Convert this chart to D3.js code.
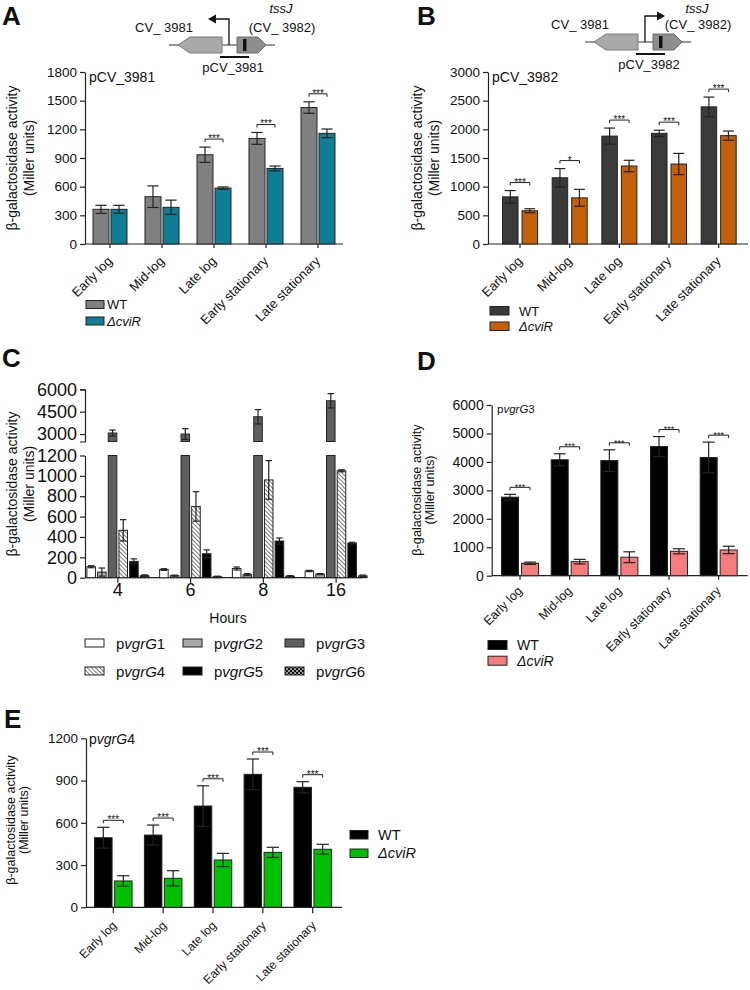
<!DOCTYPE html>
<html>
<head>
<meta charset="utf-8">
<script src="https://cdn.jsdelivr.net/npm/d3@7"></script>
<style>
  body { margin: 0; background: #fff; }
  svg text { font-family: "Liberation Sans", Arial, sans-serif; fill: #111; }
</style>
</head>
<body>
<svg id="fig" width="750" height="990"></svg>
<script>
// ---------- data ----------
const stages = ["Early log", "Mid-log", "Late log", "Early stationary", "Late stationary"];

// A: pCV_3981
const aWT = [363, 495, 934, 1105, 1428];
const aWTErr = [42, 113, 80, 62, 60];
const aCviR = [363, 384, 585, 791, 1158];
const aCviRErr = [42, 75, 12, 25, 45];
const aSig = ["", "", "***", "***", "***"];

// B: pCV_3982
const bWT = [822, 1155, 1882, 1930, 2392];
const bWTErr = [110, 160, 140, 55, 170];
const bCviR = [580, 805, 1360, 1395, 1890];
const bCviRErr = [35, 148, 100, 185, 80];
const bSig = ["***", "*", "***", "***", "***"];

// C: vgrG promoters over time
const hours = ["4", "6", "8", "16"];
const cG1 = [108, 80, 90, 66];
const cG1Err = [10, 8, 15, 6];
const cG2 = [55, 20, 30, 35];
const cG2Err = [40, 5, 10, 5];
const cG3 = [3070, 3000, 4160, 5230];
const cG3Err = [200, 360, 480, 480];
const cG4 = [465, 700, 960, 1050];
const cG4Err = [105, 145, 190, 10];
const cG5 = [160, 235, 360, 340];
const cG5Err = [25, 38, 30, 8];
const cG6 = [20, 10, 15, 18];
const cG6Err = [8, 5, 6, 8];

// D: pvgrG3
const dWT = [2760, 4075, 4045, 4540, 4155];
const dWTErr = [100, 210, 380, 350, 540];
const dCviR = [437, 494, 650, 857, 905];
const dCviRErr = [40, 80, 190, 90, 130];
const dSig = ["***", "***", "***", "***", "***"];

// E: pvgrG4
const eWT = [494, 513, 719, 944, 852];
const eWTErr = [74, 71, 144, 109, 40];
const eCviR = [187, 206, 336, 390, 412];
const eCviRErr = [37, 54, 47, 36, 35];
const eSig = ["***", "***", "***", "***", "***"];

const svg = d3.select("#fig");
const ink = "#222";
const fmt = d3.format("d");

// patterns for panel C
const defs = svg.append("defs");
const hatch = defs.append("pattern").attr("id", "hatch")
  .attr("patternUnits", "userSpaceOnUse").attr("width", 3).attr("height", 3)
  .attr("patternTransform", "rotate(-45)");
hatch.append("rect").attr("width", 3).attr("height", 3).attr("fill", "#fff");
hatch.append("line").attr("x1", 0).attr("y1", 0).attr("x2", 0).attr("y2", 3)
  .attr("stroke", "#555").attr("stroke-width", 1.6);
const checker = defs.append("pattern").attr("id", "checker")
  .attr("patternUnits", "userSpaceOnUse").attr("width", 4).attr("height", 4);
checker.append("rect").attr("width", 4).attr("height", 4).attr("fill", "#999");
checker.append("rect").attr("width", 2).attr("height", 2).attr("fill", "#111");
checker.append("rect").attr("x", 2).attr("y", 2).attr("width", 2).attr("height", 2).attr("fill", "#111");

function styleAxis(g, size) {
  g.selectAll("path.domain").attr("stroke", ink).attr("stroke-width", 1.2);
  g.selectAll(".tick line").attr("stroke", ink).attr("stroke-width", 1.2);
  g.selectAll(".tick text").style("font-size", size + "px");
}

function panelLetter(t, x, y) {
  svg.append("text").attr("x", x).attr("y", y).text(t)
    .style("font-size", "26px").style("font-weight", "bold");
}

function yLabel(x1, x2, cy, size) {
  [["β-galactosidase activity", x1], ["(Miller units)", x2]].forEach(([t, x]) => {
    svg.append("text").attr("transform", `translate(${x},${cy}) rotate(-90)`)
      .attr("text-anchor", "middle").style("font-size", size + "px").text(t);
  });
}

// italic-aware label like p<i>vgrG</i>3
function vgrText(sel, num) {
  sel.append("tspan").text("p");
  sel.append("tspan").style("font-style", "italic").text("vgrG");
  sel.append("tspan").text(num);
}

function errBar(g, cx, yTop, yBot, cap) {
  g.append("line").attr("x1", cx).attr("x2", cx).attr("y1", yTop).attr("y2", yBot)
    .attr("stroke", ink).attr("stroke-width", 1.2);
  [yTop, yBot].forEach(yy => g.append("line")
    .attr("x1", cx - cap / 2).attr("x2", cx + cap / 2).attr("y1", yy).attr("y2", yy)
    .attr("stroke", ink).attr("stroke-width", 1.2));
}

// ---------- two-series bar panel (A, B, D, E) ----------
function barPanel(c) {
  const g = svg.append("g");
  const y = d3.scaleLinear().domain([0, c.max]).range([c.y0, c.y1]);
  const x = d3.scaleBand().domain(stages).range(c.xr);
  const half = x.bandwidth() / 2;

  const ya = g.append("g").attr("transform", `translate(${c.ax},0)`)
    .call(d3.axisLeft(y).tickValues(d3.range(0, c.max + 1, c.step)).tickFormat(fmt)
      .tickSize(5).tickPadding(3).tickSizeOuter(0));
  styleAxis(ya, c.tickFont);

  g.append("line").attr("x1", c.ax).attr("x2", c.axEnd).attr("y1", y(0)).attr("y2", y(0))
    .attr("stroke", ink).attr("stroke-width", 1.2);
  g.selectAll(".xt").data(stages).enter().append("line")
    .attr("x1", d => x(d) + half).attr("x2", d => x(d) + half)
    .attr("y1", y(0)).attr("y2", y(0) + c.xTick)
    .attr("stroke", ink).attr("stroke-width", 1.2);

  c.series.forEach((s, si) => {
    const off = si === 0 ? -c.gap / 2 - c.bw : c.gap / 2;
    g.selectAll(".b" + si).data(stages).enter().append("rect")
      .attr("x", d => x(d) + half + off)
      .attr("y", (d, i) => y(s.vals[i]))
      .attr("width", c.bw)
      .attr("height", (d, i) => y(0) - y(s.vals[i]))
      .attr("fill", s.fill).attr("stroke", ink).attr("stroke-width", 1);
    stages.forEach((d, i) => {
      errBar(g, x(d) + half + off + c.bw / 2, y(s.vals[i] + s.err[i]),
        y(s.vals[i] - s.err[i]), c.bw * 0.7);
    });
  });

  // significance brackets
  stages.forEach((d, i) => {
    if (!c.sig[i]) return;
    const top = d3.max(c.series, s => s.vals[i] + s.err[i]);
    const by = y(top) - c.brOff;
    const xa = x(d) + half - c.gap / 2 - c.bw / 2;
    const xb = x(d) + half + c.gap / 2 + c.bw / 2;
    g.append("path").attr("d", `M${xa},${by + 3}V${by}H${xb}V${by + 3}`)
      .attr("fill", "none").attr("stroke", ink).attr("stroke-width", 1);
    g.append("text").attr("x", (xa + xb) / 2).attr("y", by + c.sigFont * 0.3)
      .attr("text-anchor", "middle").style("font-size", c.sigFont + "px")
      .style("fill", "#111").text(c.sig[i]);
  });

  // category labels
  g.selectAll(".cl").data(stages).enter().append("text")
    .attr("transform", d => `translate(${x(d) + half + c.lab[0]},${y(0) + c.lab[1]}) rotate(-45)`)
    .attr("text-anchor", "end").style("font-size", c.labFont + "px").text(d => d);

  // title
  const tt = g.append("text").attr("x", c.title[0]).attr("y", c.title[1])
    .style("font-size", c.titleFont + "px");
  c.titleFn(tt);

  // legend
  c.series.forEach((s, si) => {
    const ly = c.leg[1] + si * c.leg[4];
    g.append("rect").attr("x", c.leg[0]).attr("y", ly).attr("width", c.leg[2]).attr("height", c.leg[3])
      .attr("fill", s.fill).attr("stroke", ink).attr("stroke-width", 1);
    g.append("text").attr("x", c.leg[0] + c.leg[5]).attr("y", ly + c.leg[3] + 0.5)
      .style("font-size", c.legFont + "px").style("font-style", si ? "italic" : "normal")
      .text(s.name);
  });
}

// ---------- gene maps on top of A and B ----------
function geneMap(ox, oy, dir, plabel, tssY) {
  const g = svg.append("g").attr("transform", `translate(${ox},${oy})`);
  g.append("line").attr("x1", 0).attr("x2", 106).attr("y1", 0).attr("y2", 0)
    .attr("stroke", "#777").attr("stroke-width", 1.3);
  g.append("path").attr("d", "M9,0L21,-8H53V8H21Z")
    .attr("fill", "#a9a9a9").attr("stroke", "#7a7a7a").attr("stroke-width", 1);
  g.append("path").attr("d", "M68,-8H89L97,0L89,8H68Z")
    .attr("fill", "#8e8e8e").attr("stroke", "#6a6a6a").attr("stroke-width", 1);
  g.append("rect").attr("x", 74).attr("y", -6).attr("width", 3.5).attr("height", 12).attr("fill", "#111");
  const px = 60;
  const ex = dir < 0 ? 39 : 80;   // arrow tip
  g.append("path").attr("d", `M${px},0V-26H${ex - dir * 6}`)
    .attr("fill", "none").attr("stroke", "#111").attr("stroke-width", 1.3);
  g.append("path").attr("d", `M${ex},-26L${ex - dir * 8},-30.5V-21.5Z`).attr("fill", "#111");
  g.append("line").attr("x1", 51).attr("x2", 80).attr("y1", 12).attr("y2", 12)
    .attr("stroke", "#111").attr("stroke-width", 2);
  g.append("text").attr("x", -5).attr("y", -13).attr("text-anchor", "middle")
    .style("font-size", "13px").text("CV_ 3981");
  g.append("text").attr("x", 112).attr("y", tssY).attr("text-anchor", "middle")
    .style("font-size", "13px").style("font-style", "italic").text("tssJ");
  g.append("text").attr("x", 113).attr("y", -13).attr("text-anchor", "middle")
    .style("font-size", "13px").text("(CV_ 3982)");
  g.append("text").attr("x", 64).attr("y", 27).attr("text-anchor", "middle")
    .style("font-size", "13px").text(plabel);
}

// ---------- panel A ----------
panelLetter("A", 2, 25);
geneMap(169, 45, -1, "pCV_3981", -32);
yLabel(17, 34, 158, 14);
barPanel({
  max: 1800, step: 300, y0: 244, y1: 72, xr: [84, 344], ax: 85, axEnd: 343,
  bw: 16, gap: 2, xTick: 4, tickFont: 13.5, brOff: 8, sigFont: 10,
  lab: [3, 18], labFont: 13,
  series: [
    { name: "WT", vals: aWT, err: aWTErr, fill: "#808080" },
    { name: "ΔcviR", vals: aCviR, err: aCviRErr, fill: "#0f7d94" }
  ],
  sig: aSig,
  title: [89, 82], titleFont: 14, titleFn: t => t.text("pCV_3981"),
  leg: [86, 300.5, 18, 8, 16.5, 21], legFont: 13
});

// ---------- panel B ----------
panelLetter("B", 417, 25);
geneMap(585, 42, 1, "pCV_3982", -29);
yLabel(422, 439, 158, 14);
barPanel({
  max: 3000, step: 500, y0: 244, y1: 72, xr: [495.2, 743.5], ax: 488, axEnd: 748,
  bw: 15.5, gap: 4, xTick: 4, tickFont: 13.5, brOff: 8, sigFont: 10,
  lab: [3, 18], labFont: 13,
  series: [
    { name: "WT", vals: bWT, err: bWTErr, fill: "#3a3a3a" },
    { name: "ΔcviR", vals: bCviR, err: bCviRErr, fill: "#c4600a" }
  ],
  sig: bSig,
  title: [492, 82], titleFont: 14, titleFn: t => t.text("pCV_3982"),
  leg: [490, 306.5, 19, 8.5, 15.5, 29], legFont: 13
});

// ---------- panel C ----------
panelLetter("C", 2, 367);
yLabel(17, 34, 484, 14);
(function () {
  const g = svg.append("g");
  const yLo = d3.scaleLinear().domain([0, 1200]).range([577.7, 455.5]);
  const yHi = d3.scaleLinear().domain([2500, 6000]).range([441.5, 389.3]);
  const x = d3.scaleBand().domain(hours).range([81.5, 372.5]);
  const xi = d3.scaleBand().domain(d3.range(6)).range([-31, 31]).paddingInner(0.2);
  const series = [
    { name: "1", vals: cG1, err: cG1Err, fill: "#ffffff" },
    { name: "2", vals: cG2, err: cG2Err, fill: "#a8a8a8" },
    { name: "3", vals: cG3, err: cG3Err, fill: "#5f5f5f" },
    { name: "4", vals: cG4, err: cG4Err, fill: "url(#hatch)" },
    { name: "5", vals: cG5, err: cG5Err, fill: "#000000" },
    { name: "6", vals: cG6, err: cG6Err, fill: "url(#checker)" }
  ];
  const lo = g.append("g").attr("transform", "translate(85,0)")
    .call(d3.axisLeft(yLo).tickValues(d3.range(0, 1201, 200)).tickFormat(fmt)
      .tickSize(5).tickPadding(3).tickSizeOuter(0));
  styleAxis(lo, 18);
  const hi = g.append("g").attr("transform", "translate(85,0)")
    .call(d3.axisLeft(yHi).tickValues([3000, 4500, 6000]).tickFormat(fmt)
      .tickSize(5).tickPadding(3).tickSizeOuter(5));
  styleAxis(hi, 18);

  g.append("line").attr("x1", 85).attr("x2", 363).attr("y1", yLo(0)).attr("y2", yLo(0))
    .attr("stroke", ink).attr("stroke-width", 1.2);
  hours.forEach(h => {
    const cx = x(h) + x.bandwidth() / 2;
    g.append("line").attr("x1", cx).attr("x2", cx).attr("y1", yLo(0)).attr("y2", yLo(0) + 5)
      .attr("stroke", ink).attr("stroke-width", 1.2);
    g.append("text").attr("x", cx).attr("y", 596).attr("text-anchor", "middle")
      .style("font-size", "18px").text(h);
  });

  const bw = xi.bandwidth();
  series.forEach((s, si) => {
    hours.forEach((h, i) => {
      const bx = x(h) + x.bandwidth() / 2 + xi(si);
      const v = s.vals[i], e = s.err[i];
      if (v <= 1200) {
        g.append("rect").attr("x", bx).attr("y", yLo(v)).attr("width", bw)
          .attr("height", yLo(0) - yLo(v)).attr("fill", s.fill)
          .attr("stroke", ink).attr("stroke-width", 1);
        errBar(g, bx + bw / 2, yLo(v + e), yLo(Math.max(0, v - e)), bw * 0.75);
      } else {
        g.append("rect").attr("x", bx).attr("y", yLo(1200)).attr("width", bw)
          .attr("height", yLo(0) - yLo(1200)).attr("fill", s.fill)
          .attr("stroke", ink).attr("stroke-width", 1);
        g.append("rect").attr("x", bx).attr("y", yHi(v)).attr("width", bw)
          .attr("height", yHi(2500) - yHi(v)).attr("fill", s.fill)
          .attr("stroke", ink).attr("stroke-width", 1);
        errBar(g, bx + bw / 2, yHi(v + e), Math.min(yHi(2500), yHi(v - e)), bw * 0.75);
      }
    });
  });

  g.append("text").attr("x", 228).attr("y", 622.5).attr("text-anchor", "middle")
    .style("font-size", "14px").text("Hours");

  // legend, 3 columns x 2 rows
  const colX = [85, 183, 285];
  const rowY = [639, 667];
  series.forEach((s, si) => {
    const lx = colX[si % 3], ly = rowY[Math.floor(si / 3)];
    g.append("rect").attr("x", lx).attr("y", ly).attr("width", 19).attr("height", 8)
      .attr("fill", s.fill).attr("stroke", ink).attr("stroke-width", 1);
    const t = g.append("text").attr("x", lx + 31).attr("y", ly + 9.5).style("font-size", "15px");
    vgrText(t, s.name);
  });
})();

// ---------- panel D ----------
panelLetter("D", 417, 370);
yLabel(421, 434, 490, 12.7);
barPanel({
  max: 6000, step: 1000, y0: 575.7, y1: 405, xr: [495.2, 743.5], ax: 491.7, axEnd: 747.7,
  bw: 17, gap: 3, xTick: 4, tickFont: 14, brOff: 7, sigFont: 9,
  lab: [3, 16], labFont: 12.5,
  series: [
    { name: "WT", vals: dWT, err: dWTErr, fill: "#000000" },
    { name: "ΔcviR", vals: dCviR, err: dCviRErr, fill: "#f47c7c" }
  ],
  sig: dSig,
  title: [497, 413], titleFont: 11.5, titleFn: t => vgrText(t, "3"),
  leg: [488, 640.5, 19, 9, 15.7, 29], legFont: 14
});

// ---------- panel E ----------
panelLetter("E", 4, 728);
yLabel(15, 28, 820, 12.5);
barPanel({
  max: 1200, step: 300, y0: 907.3, y1: 738.3, xr: [88.4, 337.6], ax: 86, axEnd: 342,
  bw: 17.5, gap: 2.5, xTick: 6, tickFont: 13.5, brOff: 7, sigFont: 10,
  lab: [4, 19], labFont: 12,
  series: [
    { name: "WT", vals: eWT, err: eWTErr, fill: "#000000" },
    { name: "ΔcviR", vals: eCviR, err: eCviRErr, fill: "#00c000" }
  ],
  sig: eSig,
  title: [89, 744], titleFont: 14, titleFn: t => vgrText(t, "4"),
  leg: [350, 830.5, 18, 8.5, 18.5, 28], legFont: 14.5
});
</script>
</body>
</html>
